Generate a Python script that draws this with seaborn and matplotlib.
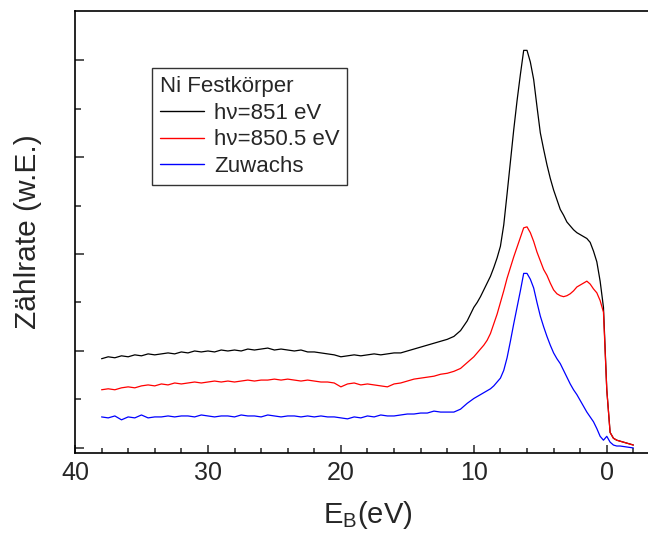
import numpy as np
import pandas as pd
import matplotlib
matplotlib.use("Agg")
import matplotlib.pyplot as plt
import seaborn as sns

# Binding energy grid (eV): 0.5 eV steps in the flat region, 0.25 eV across the Ni 3d band
energy = [38.0, 37.5, 37.0, 36.5, 36.0, 35.5, 35.0, 34.5, 34.0, 33.5, 33.0, 32.5,
          32.0, 31.5, 31.0, 30.5, 30.0, 29.5, 29.0, 28.5, 28.0, 27.5, 27.0, 26.5,
          26.0, 25.5, 25.0, 24.5, 24.0, 23.5, 23.0, 22.5, 22.0, 21.5, 21.0, 20.5,
          20.0, 19.5, 19.0, 18.5, 18.0, 17.5, 17.0, 16.5, 16.0, 15.5, 15.0, 14.5,
          14.0, 13.5, 13.0, 12.5, 12.0, 11.5, 11.0, 10.5,
          10.0, 9.75, 9.5, 9.25, 9.0, 8.75, 8.5, 8.25, 8.0, 7.75, 7.5, 7.25,
          7.0, 6.75, 6.5, 6.25, 6.0, 5.75, 5.5, 5.25, 5.0, 4.75, 4.5, 4.25,
          4.0, 3.75, 3.5, 3.25, 3.0, 2.75, 2.5, 2.25, 2.0, 1.75, 1.5, 1.25,
          1.0, 0.75, 0.5, 0.25, 0.0, -0.25, -0.5, -0.75, -1.0, -1.5, -2.0]

# Photon energy 851 eV
rate_851 = [0.92, 0.94, 0.93, 0.95, 0.94, 0.96, 0.95, 0.97, 0.96, 0.97, 0.98, 0.97,
            0.99, 0.98, 1.00, 0.99, 1.00, 0.99, 1.01, 1.00, 1.01, 1.00, 1.02, 1.01,
            1.02, 1.03, 1.01, 1.02, 1.01, 1.00, 1.01, 0.99, 0.99, 0.98, 0.97, 0.96,
            0.94, 0.95, 0.96, 0.95, 0.96, 0.97, 0.96, 0.97, 0.98, 0.98, 1.00, 1.02,
            1.04, 1.06, 1.08, 1.10, 1.12, 1.15, 1.21, 1.31,
            1.45, 1.50, 1.56, 1.63, 1.70, 1.77, 1.86, 1.96, 2.08, 2.30, 2.62, 2.95,
            3.28, 3.58, 3.85, 4.10, 4.10, 3.98, 3.80, 3.52, 3.25, 3.08, 2.92, 2.78,
            2.66, 2.56, 2.46, 2.40, 2.33, 2.29, 2.25, 2.22, 2.20, 2.18, 2.16, 2.12,
            2.03, 1.92, 1.72, 1.45, 0.60, 0.16, 0.10, 0.08, 0.07, 0.05, 0.03]

# Photon energy 850.5 eV
rate_8505 = [0.60, 0.61, 0.60, 0.62, 0.63, 0.62, 0.64, 0.65, 0.64, 0.66, 0.65, 0.67,
             0.66, 0.67, 0.68, 0.67, 0.68, 0.69, 0.68, 0.69, 0.68, 0.69, 0.70, 0.69,
             0.70, 0.70, 0.71, 0.70, 0.71, 0.70, 0.69, 0.70, 0.69, 0.68, 0.68, 0.67,
             0.63, 0.66, 0.67, 0.65, 0.66, 0.65, 0.64, 0.63, 0.66, 0.67, 0.69, 0.71,
             0.72, 0.73, 0.74, 0.76, 0.77, 0.79, 0.82, 0.88,
             0.94, 0.98, 1.02, 1.06, 1.11, 1.18, 1.28, 1.38, 1.50, 1.62, 1.75, 1.86,
             1.97, 2.07, 2.17, 2.27, 2.28, 2.22, 2.13, 2.02, 1.93, 1.84, 1.78, 1.70,
             1.63, 1.59, 1.57, 1.56, 1.57, 1.59, 1.62, 1.66, 1.68, 1.70, 1.72, 1.69,
             1.64, 1.60, 1.52, 1.40, 0.60, 0.16, 0.10, 0.08, 0.07, 0.05, 0.03]

# Difference spectrum
rate_diff = [0.32, 0.31, 0.33, 0.29, 0.32, 0.31, 0.34, 0.31, 0.32, 0.32, 0.33, 0.32,
             0.33, 0.33, 0.32, 0.34, 0.33, 0.32, 0.33, 0.33, 0.32, 0.34, 0.33, 0.33,
             0.32, 0.34, 0.33, 0.32, 0.33, 0.33, 0.32, 0.33, 0.32, 0.33, 0.32, 0.32,
             0.31, 0.30, 0.32, 0.31, 0.33, 0.32, 0.34, 0.33, 0.33, 0.34, 0.35, 0.35,
             0.36, 0.36, 0.38, 0.37, 0.37, 0.37, 0.40, 0.46,
             0.51, 0.53, 0.55, 0.57, 0.59, 0.61, 0.64, 0.68, 0.72, 0.80, 0.93, 1.10,
             1.28, 1.45, 1.62, 1.80, 1.80, 1.74, 1.65, 1.50, 1.36, 1.25, 1.15, 1.06,
             0.98, 0.92, 0.87, 0.80, 0.73, 0.66, 0.60, 0.55, 0.49, 0.43, 0.37, 0.32,
             0.27, 0.20, 0.12, 0.08, 0.12, 0.06, 0.03, 0.02, 0.02, 0.01, 0.00]

series_labels = ["h\u03bd=851 eV", "h\u03bd=850.5 eV", "Zuwachs"]
series_colors = ["black", "red", "blue"]

sns.set_style("ticks")
plt.rcParams["font.family"] = ["Liberation Sans", "DejaVu Sans"]
plt.rcParams["mathtext.fontset"] = "custom"
plt.rcParams["mathtext.rm"] = "Liberation Sans"
plt.rcParams["mathtext.it"] = "Liberation Sans:italic"

fig = plt.figure(figsize=(6.48, 5.38), dpi=100)
ax = fig.add_axes([0.1157, 0.158, 0.8843, 0.8214])

for vals, lab, col in zip([rate_851, rate_8505, rate_diff], series_labels, series_colors):
    df = pd.DataFrame({"E": energy, "I": vals})
    sns.lineplot(data=df, x="E", y="I", ax=ax, color=col, lw=0.9,
                 label=lab, sort=False, estimator=None)

ax.set_xlim(40, -3.1)
ax.set_ylim(-0.052, 4.505)

ax.set_xticks([40, 30, 20, 10, 0])
ax.set_xticks(np.arange(38, -3, -2), minor=True)
ax.set_yticks([0, 1, 2, 3, 4])
ax.set_yticks([0.5, 1.5, 2.5, 3.5], minor=True)
ax.set_yticklabels([])

for side in ["left", "bottom", "top"]:
    ax.spines[side].set_linewidth(1.2)
    ax.spines[side].set_color("black")
ax.spines["right"].set_visible(False)

ax.tick_params(axis="x", which="major", direction="in", length=6, width=1.1,
               labelsize=18, pad=6, top=False)
ax.tick_params(axis="x", which="minor", direction="in", length=3.5, width=1.1, top=False)
ax.tick_params(axis="y", which="major", direction="in", length=6.5, width=1.1, right=False)
ax.tick_params(axis="y", which="minor", direction="in", length=4.5, width=1.1, right=False)

ax.set_xlabel("E$_\\mathrm{B}$(eV)", fontsize=21, labelpad=12)
ax.xaxis.set_label_coords(0.51, -0.105)
ax.set_ylabel("Zählrate (w.E.)", fontsize=21.5, labelpad=20)

leg = ax.legend(title="Ni Festkörper", loc="upper left",
                bbox_to_anchor=(0.134, 0.871), borderaxespad=0,
                fontsize=16, title_fontsize=16, frameon=True, fancybox=False,
                edgecolor="black", handlelength=2.0, handletextpad=0.45,
                labelspacing=0.26, borderpad=0.35, alignment="left")
leg.get_frame().set_linewidth(1.0)
for line in leg.get_lines():
    line.set_linewidth(1.0)

fig.savefig("out.png", dpi=100)
